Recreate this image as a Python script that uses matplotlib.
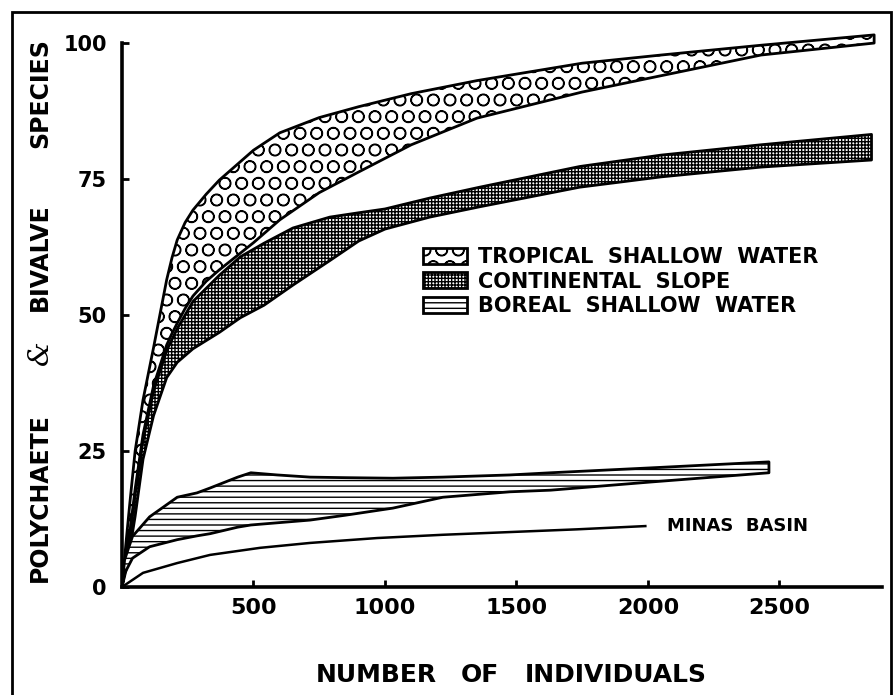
import numpy as np
import matplotlib
matplotlib.use('Agg')
import matplotlib.pyplot as plt
from matplotlib.patches import Rectangle

plt.rcParams['font.family'] = 'DejaVu Sans'
plt.rcParams['font.weight'] = 'bold'
plt.rcParams['hatch.linewidth'] = 1.0

# dati (numero individui vs numero specie)
trop_x = [0, 15, 30, 50, 80, 120, 170, 190, 210, 240, 270, 320, 370, 500, 600, 750, 900, 1100, 1350, 1750, 2050, 2430, 2860]
trop_hi = [0, 8, 15.5, 25, 34.4, 44, 56.5, 60.5, 63.8, 67.0, 69.3, 72.2, 74.8, 80.3, 83.5, 86.3, 88.3, 90.7, 93.1, 96.3, 97.8, 99.6, 101.5]
trop_lo = [0, 5, 10, 18, 28, 37, 44.5, 46.6, 48.5, 51.2, 53.5, 56.2, 58.3, 63.3, 67.5, 72.5, 76.3, 81.3, 86.2, 91.0, 94.0, 97.8, 100.0]

cont_x = [0, 20, 50, 80, 120, 170, 210, 270, 370, 450, 540, 650, 790, 900, 1000, 1170, 1360, 1740, 2050, 2430, 2850]
cont_hi = [0, 6, 17, 27, 36, 43.5, 47.5, 52.5, 57.3, 60.7, 63.2, 66.0, 68.0, 68.8, 69.5, 71.5, 73.5, 77.3, 79.4, 81.3, 83.2]
cont_lo = [0, 4, 13, 23.5, 31.5, 38.5, 41.3, 43.8, 46.8, 49.5, 51.8, 55.5, 60.0, 63.6, 65.8, 68.0, 69.9, 73.5, 75.4, 77.2, 78.5]

bor_x = [0, 10, 40, 105, 210, 285, 335, 440, 490, 590, 715, 850, 1030, 1220, 1475, 1630, 2010, 2460]
bor_hi = [0, 5, 9.3, 12.9, 16.5, 17.3, 18.2, 20.2, 21.0, 20.6, 20.2, 20.1, 20.0, 20.2, 20.6, 21.0, 21.9, 23.0]
bor_lo = [0, 2.5, 5.3, 7.4, 8.7, 9.4, 9.8, 11.0, 11.4, 11.8, 12.3, 13.2, 14.5, 16.5, 17.5, 17.8, 19.3, 21.0]

minas_x = [0, 80, 210, 335, 525, 715, 970, 1220, 1475, 1730, 1990]
minas_y = [0, 2.6, 4.4, 5.9, 7.2, 8.1, 9.0, 9.6, 10.1, 10.6, 11.2]

labels = ['TROPICAL  SHALLOW  WATER', 'CONTINENTAL  SLOPE', 'BOREAL  SHALLOW  WATER']
x_ticks = [500, 1000, 1500, 2000, 2500]
y_ticks = [0, 25, 50, 75, 100]

fig = plt.figure(figsize=(8.95, 6.95), dpi=100)
ax = fig.add_axes([0.1363, 0.1554, 0.8492, 0.8296])

trop = ax.fill_between(trop_x, trop_lo, trop_hi, facecolor='white', edgecolor='black',
                       hatch='O', linewidth=2)
cont = ax.fill_between(cont_x, cont_lo, cont_hi, facecolor='white', edgecolor='black',
                       hatch='+++++', linewidth=2)
bor = ax.fill_between(bor_x, bor_lo, bor_hi, facecolor='white', edgecolor='black',
                      hatch='---', linewidth=2)
ax.plot(minas_x, minas_y, '-', color='black', linewidth=1.8)
ax.text(2072, 11.2, 'MINAS  BASIN', fontsize=13, va='center', ha='left')

ax.set_xlim(0, 2890)
ax.set_ylim(0, 106)
ax.spines['top'].set_visible(False)
ax.spines['right'].set_visible(False)
ax.spines['left'].set_bounds(0, 100)
for s in ['left', 'bottom']:
    ax.spines[s].set_linewidth(2.6)
ax.set_xticks(x_ticks)
ax.set_yticks(y_ticks)
ax.tick_params(direction='in', length=5, width=2)
ax.tick_params(axis='x', pad=8, labelsize=16)
ax.tick_params(axis='y', pad=11, labelsize=15)

ax.legend([trop, cont, bor], labels, loc='upper left',
          bbox_to_anchor=(423 / 895, 1 - 247 / 695), bbox_transform=fig.transFigure,
          frameon=False, borderpad=0, borderaxespad=0, fontsize=15,
          handlelength=2.11, handleheight=0.82, handletextpad=0.53, labelspacing=0.22)

# titoli assi, parola per parola per rispettare la spaziatura
for word, xc in [('NUMBER', 376), ('OF', 480), ('INDIVIDUALS', 616)]:
    fig.text(xc / 895, 1 - 675 / 695, word, fontsize=18, ha='center', va='center')
for word, yc in [('SPECIES', 93), ('BIVALVE', 257), ('POLYCHAETE', 498)]:
    fig.text(40 / 895, 1 - yc / 695, word, fontsize=17, rotation=90, ha='center', va='center')
fig.text(40 / 895, 1 - 353 / 695, '&', fontsize=20, rotation=90, ha='center', va='center',
         family='DejaVu Serif', style='italic', weight='normal')

# cornice esterna
fig.add_artist(Rectangle((12 / 895, -0.05), 879 / 895, 1.05 - 12 / 695, fill=False,
                         edgecolor='black', linewidth=2, transform=fig.transFigure))

plt.savefig('out.png', dpi=100)
